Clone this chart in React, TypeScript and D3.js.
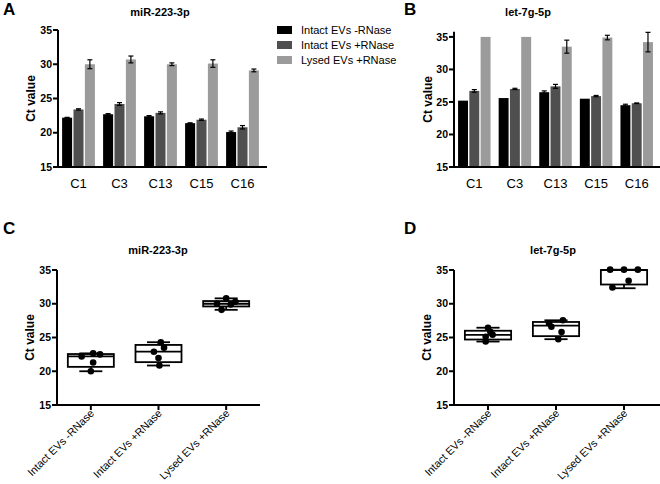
import React from "react";
import * as d3 from "d3";

const categories = ["C1", "C3", "C13", "C15", "C16"];
const seriesNames = ["Intact EVs -RNase", "Intact EVs +RNase", "Lysed EVs +RNase"];
const seriesColors = ["#000000", "#4f4f4f", "#9b9b9b"];
const yTicks = [15, 20, 25, 30, 35];

// Panel A: miR-223-3p
const aIntactMinus = [22.2, 22.7, 22.4, 21.4, 20.1];
const aIntactMinusErr = [0.05, 0.1, 0.1, 0.05, 0.15];
const aIntactPlus = [23.4, 24.2, 22.9, 21.9, 20.8];
const aIntactPlusErr = [0.1, 0.2, 0.15, 0.1, 0.25];
const aLysed = [30.0, 30.7, 30.0, 30.1, 29.1];
const aLysedErr = [0.65, 0.5, 0.2, 0.55, 0.2];

// Panel B: let-7g-5p
const bIntactMinus = [25.2, 25.6, 26.5, 25.5, 24.5];
const bIntactMinusErr = [0, 0, 0.2, 0, 0.15];
const bIntactPlus = [26.7, 27.0, 27.4, 25.9, 24.8];
const bIntactPlusErr = [0.2, 0.1, 0.3, 0.1, 0.05];
const bLysed = [35.0, 35.0, 33.5, 34.9, 34.2];
const bLysedErr = [0, 0, 1.0, 0.35, 1.5];

// Panel C: miR-223-3p box plots [min, q1, median, q3, max]
const cStats = [
  [20.0, 20.65, 22.2, 22.55, 22.65],
  [20.85, 21.35, 22.9, 23.9, 24.3],
  [29.1, 29.6, 30.0, 30.4, 30.8],
];
const cPoints = [
  [22.65, 22.2, 22.5, 21.3, 20.0],
  [24.3, 23.5, 22.9, 21.95, 20.85],
  [30.8, 30.3, 30.0, 29.9, 29.1],
];
const cJitter = [
  [0.05, -0.2, 0.2, 0.05, 0.0],
  [0.05, 0.12, -0.1, 0.0, 0.02],
  [0.0, 0.2, -0.2, 0.1, -0.1],
];

// Panel D: let-7g-5p box plots
const dStats = [
  [24.4, 24.7, 25.4, 26.0, 26.45],
  [24.75, 25.2, 26.75, 27.3, 27.55],
  [32.3, 32.85, 35.0, 35.0, 35.05],
];
const dPoints = [
  [26.45, 25.85, 25.4, 25.1, 24.4],
  [27.55, 27.1, 26.6, 25.8, 24.75],
  [35.05, 35.05, 35.05, 33.4, 32.4],
];
const dJitter = [
  [0.0, 0.05, 0.1, -0.05, -0.05],
  [0.15, -0.15, -0.1, 0.12, 0.05],
  [-0.3, 0.0, 0.3, 0.1, -0.25],
];

const FONT = "'Liberation Sans', Arial, Helvetica, sans-serif";

function YAxis({ y, x0, labelX, labelY }) {
  const [r0, r1] = y.range();
  return (
    <g>
      <line x1={x0} x2={x0} y1={r0 + 1} y2={r1} stroke="#000" strokeWidth={2} />
      {yTicks.map((t) => (
        <g key={t}>
          <line x1={x0 - 5} x2={x0} y1={y(t)} y2={y(t)} stroke="#000" strokeWidth={2} />
          <text x={x0 - 6} y={y(t)} dy="0.35em" textAnchor="end" fontSize={10.5} fontWeight="bold" fontFamily={FONT}>
            {t}
          </text>
        </g>
      ))}
      <text
        transform={`translate(${labelX},${labelY}) rotate(-90)`}
        textAnchor="middle"
        dy="0.35em"
        fontSize={12}
        fontWeight="bold"
        fontFamily={FONT}
      >
        Ct value
      </text>
    </g>
  );
}

function BarPanel({ x0, x1, yTop, yBottom, yMax, series, errs, title, titleX, letter, letterX, labelX }) {
  const y = d3.scaleLinear().domain([15, yMax]).range([yBottom, yTop]);
  const x = d3.scaleBand().domain(categories).range([x0, x1]).paddingInner(0.2).paddingOuter(0.1);
  const xs = d3.scaleBand().domain(seriesNames).range([0, x.bandwidth()]).paddingInner(0.12);
  return (
    <g>
      <text x={letterX} y={15} fontSize={17} fontWeight="bold" fontFamily={FONT}>
        {letter}
      </text>
      <text x={titleX} y={16} textAnchor="middle" fontSize={11} fontWeight="bold" fontFamily={FONT}>
        {title}
      </text>
      {series.map((vals, si) =>
        vals.map((v, ci) => {
          const bx = x(categories[ci]) + xs(seriesNames[si]);
          const cx = bx + xs.bandwidth() / 2;
          const e = errs[si][ci];
          return (
            <g key={`${si}-${ci}`}>
              <rect x={bx} y={y(v)} width={xs.bandwidth()} height={y(15) - y(v)} fill={seriesColors[si]} />
              {e > 0 && (
                <g stroke="#000" strokeWidth={1.2}>
                  <line x1={cx} x2={cx} y1={y(v - e)} y2={y(v + e)} />
                  <line x1={cx - 2.5} x2={cx + 2.5} y1={y(v + e)} y2={y(v + e)} />
                  <line x1={cx - 2.5} x2={cx + 2.5} y1={y(v - e)} y2={y(v - e)} />
                </g>
              )}
            </g>
          );
        })
      )}
      <line x1={x0} x2={x1 + 4} y1={y(15)} y2={y(15)} stroke="#000" strokeWidth={2} />
      {categories.map((c) => (
        <text key={c} x={x(c) + x.bandwidth() / 2} y={y(15) + 21} textAnchor="middle" fontSize={13} fontFamily={FONT}>
          {c}
        </text>
      ))}
      <YAxis y={y} x0={x0} labelX={labelX} labelY={(yTop + yBottom) / 2} />
    </g>
  );
}

function BoxPanel({ x0, x1, axisEnd, yTop, yBottom, stats, points, jitter, title, titleX, letter, letterX, labelX }) {
  const y = d3.scaleLinear().domain([15, 35]).range([yBottom, yTop]);
  const x = d3.scaleBand().domain(seriesNames).range([x0, x1]).paddingInner(0.32).paddingOuter(0.16);
  return (
    <g>
      <text x={letterX} y={234} fontSize={17} fontWeight="bold" fontFamily={FONT}>
        {letter}
      </text>
      <text x={titleX} y={254} textAnchor="middle" fontSize={11} fontWeight="bold" fontFamily={FONT}>
        {title}
      </text>
      {seriesNames.map((s, i) => {
        const bx = x(s);
        const w = x.bandwidth();
        const cx = bx + w / 2;
        const [mn, q1, med, q3, mx] = stats[i];
        return (
          <g key={s} stroke="#000" strokeWidth={1.8} fill="none">
            <line x1={cx} x2={cx} y1={y(mx)} y2={y(q3)} />
            <line x1={cx} x2={cx} y1={y(q1)} y2={y(mn)} />
            <line x1={cx - w / 4} x2={cx + w / 4} y1={y(mx)} y2={y(mx)} />
            <line x1={cx - w / 4} x2={cx + w / 4} y1={y(mn)} y2={y(mn)} />
            <rect x={bx} y={y(q3)} width={w} height={y(q1) - y(q3)} fill="#fff" />
            <line x1={bx} x2={bx + w} y1={y(med)} y2={y(med)} />
            {points[i].map((p, j) => (
              <circle key={j} cx={cx + jitter[i][j] * w} cy={y(p)} r={3.3} fill="#000" stroke="none" />
            ))}
          </g>
        );
      })}
      <line x1={x0} x2={axisEnd} y1={y(15)} y2={y(15)} stroke="#000" strokeWidth={2} />
      {seriesNames.map((s) => {
        const cx = x(s) + x.bandwidth() / 2;
        return (
          <g key={s}>
            <line x1={cx} x2={cx} y1={y(15)} y2={y(15) + 5} stroke="#000" strokeWidth={2} />
            <text
              transform={`translate(${cx + 4},${y(15) + 9}) rotate(-45)`}
              textAnchor="end"
              fontSize={10.8}
              fontFamily={FONT}
            >
              {s}
            </text>
          </g>
        );
      })}
      <YAxis y={y} x0={x0} labelX={labelX} labelY={(yTop + yBottom) / 2} />
    </g>
  );
}

export default function App() {
  return (
    <svg
      width={660}
      height={484}
      viewBox="0 0 660 484"
      style={{ position: "absolute", left: 0, top: 0, background: "#fff" }}
    >
      <rect width={660} height={484} fill="#fff" />
      <BarPanel
        x0={58}
        x1={263}
        yTop={30}
        yBottom={167}
        yMax={35}
        series={[aIntactMinus, aIntactPlus, aLysed]}
        errs={[aIntactMinusErr, aIntactPlusErr, aLysedErr]}
        title="miR-223-3p"
        titleX={160}
        letter="A"
        letterX={3}
        labelX={31}
      />
      <g>
        {seriesNames.map((s, i) => (
          <g key={s}>
            <rect x={277} y={26 + i * 15} width={15} height={8} fill={seriesColors[i]} />
            <text x={301} y={33.5 + i * 15} fontSize={11} fontFamily={FONT}>
              {s}
            </text>
          </g>
        ))}
      </g>
      <BarPanel
        x0={454}
        x1={657}
        yTop={31.7}
        yBottom={167}
        yMax={35.8}
        series={[bIntactMinus, bIntactPlus, bLysed]}
        errs={[bIntactMinusErr, bIntactPlusErr, bLysedErr]}
        title="let-7g-5p"
        titleX={528}
        letter="B"
        letterX={404}
        labelX={428}
      />
      <BoxPanel
        x0={57}
        x1={260}
        axisEnd={260}
        yTop={270}
        yBottom={405}
        stats={cStats}
        points={cPoints}
        jitter={cJitter}
        title="miR-223-3p"
        titleX={158}
        letter="C"
        letterX={3}
        labelX={30}
      />
      <BoxPanel
        x0={454}
        x1={658}
        axisEnd={660}
        yTop={270}
        yBottom={405}
        stats={dStats}
        points={dPoints}
        jitter={dJitter}
        title="let-7g-5p"
        titleX={553}
        letter="D"
        letterX={404}
        labelX={427}
      />
    </svg>
  );
}
